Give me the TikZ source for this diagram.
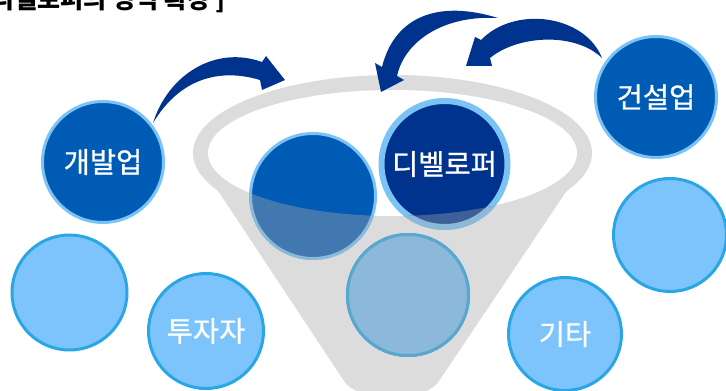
\documentclass[tikz,border=0pt]{standalone}
\usepackage{fontspec}
\newfontfamily\kr{Noto Sans CJK KR}
\newfontfamily\krm{Noto Sans CJK KR}[FakeBold=0.8]
\definecolor{darkblue}{HTML}{005BB5}
\definecolor{navy}{HTML}{00338D}
\definecolor{rimlight}{HTML}{7CC3F5}
\definecolor{lightfill}{HTML}{7CC4FB}
\definecolor{lightrim}{HTML}{2AA6E6}
\definecolor{funnelgrey}{HTML}{DCDCDC}
% the same colours seen through the grey funnel body
\definecolor{darkblueF}{HTML}{4078AF}
\definecolor{navyF}{HTML}{3F5F97}
\definecolor{rimlightF}{HTML}{8CB9D8}
\definecolor{lightfillF}{HTML}{8CB9DA}
\definecolor{lightrimF}{HTML}{59A7CF}
\begin{document}
\begin{tikzpicture}[x=1pt,y=1pt,
  label text/.style={text=white, font=\krm\fontsize{28.5}{32}\selectfont},
  darkc/.style={circle, inner sep=0pt, draw=rimlight, line width=3pt, fill=darkblue, minimum size=#1, label text},
  navyc/.style={circle, inner sep=0pt, draw=rimlight, line width=6pt, fill=navy, minimum size=#1, label text},
  lightc/.style={circle, inner sep=0pt, draw=lightrim, line width=3pt, fill=lightfill, minimum size=#1, label text},
  bend arrow/.style={fill=navy}]
\useasboundingbox (0,0) rectangle (726,391);
\clip (0,0) rectangle (726,391);

% funnel: body and rim
\fill[funnelgrey] (392.5,238) ellipse[x radius=199.5, y radius=78];
\fill[funnelgrey] (193,238) -- (592,238) [rounded corners=14] -- (431,-2) -- (352,-2) [sharp corners] -- cycle;
\fill[white] (392.5,238) ellipse[x radius=184.5, y radius=63];

% circles
\node[darkc=121]  (dev)   at (103,229)   {개발업};
\node[lightc=115] (lt1)   at (69.5,98.5) {};
\node[lightc=115] (inv)   at (206,60)    {투자자};
\node[darkc=125]  (mid)   at (313,195)   {};
\node[lightc=121] (low)   at (408,96)    {};
\node[darkc=121]  (cons)  at (656,294)   {건설업};
\node[lightc=113] (rt1)   at (670,156)   {};
\node[lightc=113] (etc)   at (565,57)    {기타};
\node[navyc=126]  (devp)  at (444.5,227) {};

% the parts of the circles that lie in the funnel body
\begin{scope}[even odd rule]
  \clip
    (193,238) arc[start angle=180, end angle=0, x radius=199.5, y radius=78]
    [rounded corners=14] -- (431,-2) -- (352,-2) [sharp corners] -- cycle
    (392.5,238) ellipse[x radius=184.5, y radius=63];
  \node[darkc=125, fill=darkblueF, draw=rimlightF]   (midF)  at (mid.center)  {};
  \node[navyc=126, fill=navyF, draw=rimlightF]       (devpF) at (devp.center) {};
  \node[lightc=121, fill=lightfillF, draw=lightrimF] (lowF)  at (low.center)  {};
\end{scope}
\node[label text] (devpT) at (devp.center) {디벨로퍼};

% curved arrows
\fill[bend arrow] (153,268) .. controls (168,316) and (215,346) .. (262,329)
  -- (266,335) -- (285,311) -- (262,301) -- (260,311)
  .. controls (220,323) and (180,313) .. (153,268) -- cycle;
\fill[bend arrow] (498,373) .. controls (440,391) and (395,376) .. (382,324)
  -- (375,328) -- (381,299) -- (404,311) -- (397,315)
  .. controls (405,351) and (445,376) .. (498,373) -- cycle;
\fill[bend arrow] (602,333) .. controls (585,376) and (515,386) .. (481,351)
  -- (475,354) -- (466,325) -- (492,325) -- (490,333)
  .. controls (518,356) and (575,359) .. (602,333) -- cycle;

% heading
\node[anchor=south east, inner sep=0pt, font=\kr\bfseries\fontsize{25}{29}\selectfont] (title) at (226,378) {[ 디벨로퍼의 영역 확장 ]};
\end{tikzpicture}
\end{document}
